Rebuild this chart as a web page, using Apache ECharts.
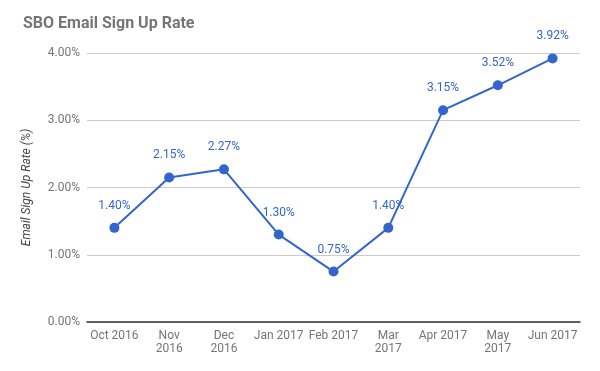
<!DOCTYPE html>
<html><head><meta charset="utf-8">
<script src="https://cdn.jsdelivr.net/npm/echarts@6/dist/echarts.min.js"></script>
<style>html,body{margin:0;padding:0;background:#fff}#c{width:600px;height:371px}</style>
</head><body><div id="c"></div>
<script>
const categories = ['Oct 2016','Nov 2016','Dec 2016','Jan 2017','Feb 2017','Mar 2017','Apr 2017','May 2017','Jun 2017'];
const tickLabels = ['Oct 2016','Nov\n2016','Dec\n2016','Jan 2017','Feb 2017','Mar\n2017','Apr 2017','May\n2017','Jun 2017'];
const signUpRate = [1.40, 2.15, 2.27, 1.30, 0.75, 1.40, 3.15, 3.52, 3.92];
const yTicks = [0, 1, 2, 3, 4];

const chart = echarts.init(document.getElementById('c'), null, {renderer:'canvas'});
chart.setOption({
  animation:false,
  textStyle:{fontFamily:'Roboto'},
  title:{text:'SBO Email Sign Up Rate', left:18, top:11,
    textStyle:{fontFamily:'Roboto', fontSize:16, fontWeight:'bold', color:'#757575'}},
  grid:{left:87, right:20, top:53, bottom:49},
  xAxis:{type:'category', data:categories, boundaryGap:true,
    axisLine:{lineStyle:{color:'#333', width:1.5}},
    axisTick:{show:false},
    axisLabel:{color:'#757575', fontSize:12, lineHeight:13, margin:7, interval:0,
      formatter:(v,i)=>tickLabels[i]}},
  yAxis:{type:'value', min:yTicks[0], max:yTicks[yTicks.length-1], interval:1,
    name:'Email Sign Up Rate (%)', nameLocation:'middle', nameGap:54,
    nameTextStyle:{fontStyle:'italic', color:'#444', fontSize:12},
    axisLine:{show:false}, axisTick:{show:false},
    axisLabel:{color:'#757575', fontSize:12, margin:7, formatter:v=>v.toFixed(2)+'%'},
    splitLine:{lineStyle:{color:'#cccccc'}}},
  series:[{type:'line', data:signUpRate, symbol:'circle', symbolSize:10,
    lineStyle:{color:'#3366cc', width:2}, itemStyle:{color:'#3366cc'},
    label:{show:true, position:'top', distance:11, color:'#3366cc', fontSize:12,
      formatter:p=>p.value.toFixed(2)+'%'}}]
});
</script></body></html>
